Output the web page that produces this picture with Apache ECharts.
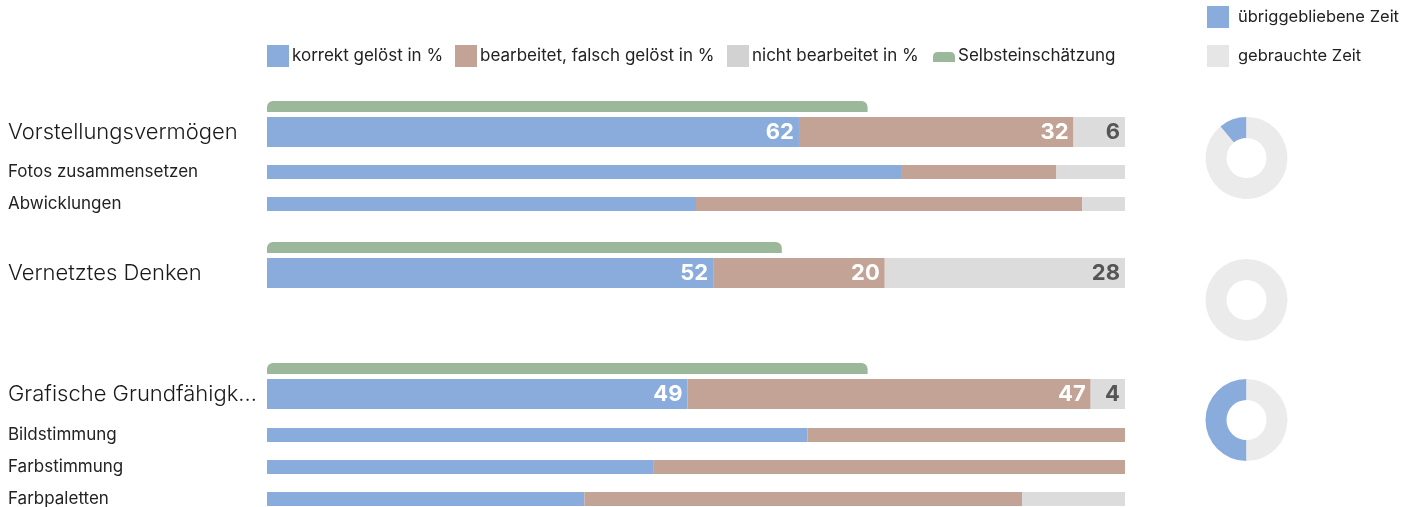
<!DOCTYPE html>
<html>
<head>
<meta charset="utf-8">
<script src="https://cdn.jsdelivr.net/npm/echarts@6/dist/echarts.min.js"></script>
<style>
html,body{margin:0;padding:0;background:#fff;}
#chart{width:1424px;height:507px;}
</style>
</head>
<body>
<div id="chart"></div>
<script>
// ---- data ----
const groups = ['Vorstellungsvermögen', 'Vernetztes Denken', 'Grafische Grundfähigkeiten'];
const correct = [62, 52, 49];
const wrong = [32, 20, 47];
const notDone = [6, 28, 4];
const selfEstimate = [70, 60, 70];

const subGroup = [0, 0, 2, 2, 2];
const subNames = ['Fotos zusammensetzen', 'Abwicklungen', 'Bildstimmung', 'Farbstimmung', 'Farbpaletten'];
const subCorrect = [74, 50, 63, 45, 37];
const subWrong = [18, 45, 37, 55, 51];
const subNotDone = [8, 5, 0, 0, 12];

const timeLeft = [11, 0, 50];
const timeUsed = [89, 100, 50];

const seriesNames = ['korrekt gelöst in %', 'bearbeitet, falsch gelöst in %', 'nicht bearbeitet in %', 'Selbsteinschätzung'];
const timeNames = ['übriggebliebene Zeit', 'gebrauchte Zeit'];

// ---- layout / style ----
const C_BLUE = '#89acdc', C_BROWN = '#c2a395', C_GRAY = '#dcdcdc', C_GREEN = '#9bb89b', C_RING = '#ebebeb';
const FONT = 'Inter';
const LEFT = 267, RIGHT = 299;
const mainTop = [117, 258, 379];
const subTop = [165, 197, 428, 460, 492];
const pieCenterY = [158, 300, 420];
const legendLeft = [267, 455, 727, 933];
const legendIcons = ['rect', 'rect', 'rect',
  'path://M0,17 L0,12 Q0,7 5,7 L17,7 Q22,7 22,12 L22,17 Z M0,0 L0,0 M22,22 L22,22'];
const legendColors = [C_BLUE, C_BROWN, '#d2d2d2', C_GREEN];

const grids = [], xAxes = [], yAxes = [], series = [];

function addGrid(top, height, label, labelStyle) {
  const idx = grids.length;
  grids.push({left: LEFT, right: RIGHT, top: top, height: height, containLabel: false, outerBoundsMode: 'none'});
  xAxes.push({type: 'value', gridIndex: idx, min: 0, max: 100, show: false});
  yAxes.push({
    type: 'category', gridIndex: idx, data: [label],
    axisLine: {show: false}, axisTick: {show: false}, splitLine: {show: false},
    axisLabel: Object.assign({show: !!label, align: 'left', margin: LEFT - 8, fontFamily: FONT,
      width: 252, overflow: 'truncate', ellipsis: '...'}, labelStyle || {})
  });
  return idx;
}

function stackSeries(idx, vals, withLabels) {
  const colors = [C_BLUE, C_BROWN, C_GRAY];
  const labelColors = ['#fff', '#fff', '#555'];
  vals.forEach((v, k) => {
    series.push({
      type: 'bar', name: seriesNames[k], xAxisIndex: idx, yAxisIndex: idx,
      stack: 's' + idx, barWidth: '100%', data: [v], silent: true,
      itemStyle: {color: colors[k]},
      label: withLabels ? {show: true, position: 'insideRight', distance: 5, color: labelColors[k],
        fontFamily: FONT, fontWeight: 'bold', fontSize: 22} : {show: false}
    });
  });
}

groups.forEach((g, i) => {
  const gi = addGrid(mainTop[i] - 16, 11, '', {show: false});
  series.push({
    type: 'bar', name: seriesNames[3], xAxisIndex: gi, yAxisIndex: gi, barWidth: '100%',
    data: [selfEstimate[i]], silent: true,
    itemStyle: {color: C_GREEN, borderRadius: [6, 6, 0, 0]}
  });
  const mi = addGrid(mainTop[i], 30, g, {fontSize: 22, fontWeight: 300, color: '#1a1a1a',
    verticalAlign: 'middle', lineHeight: 30, padding: [5, 0, 0, 0]});
  stackSeries(mi, [correct[i], wrong[i], notDone[i]], true);
});

subNames.forEach((s, j) => {
  const si = addGrid(subTop[j], 14, s, {fontSize: 17, fontWeight: 400, color: '#222'});
  stackSeries(si, [subCorrect[j], subWrong[j], subNotDone[j]], false);
});

groups.forEach((g, i) => {
  series.push({
    type: 'pie', name: g, center: [1246.5, pieCenterY[i]], radius: [20, 41],
    startAngle: 90, clockwise: false, silent: true, label: {show: false}, labelLine: {show: false},
    data: [
      {name: timeNames[0], value: timeLeft[i], itemStyle: {color: C_BLUE}},
      {name: timeNames[1], value: timeUsed[i], itemStyle: {color: C_RING}}
    ]
  });
});

const legends = seriesNames.map((n, k) => ({
  left: legendLeft[k], top: 45, padding: 0, itemWidth: 22, itemHeight: 22,
  selectedMode: false,
  textStyle: {fontFamily: FONT, fontSize: 17, color: '#222', padding: [0, 0, 0, -2]},
  data: [{name: n, icon: legendIcons[k], itemStyle: {color: legendColors[k], borderWidth: 0}}]
}));
legends.push({
  left: 1207, top: 6, padding: 0, orient: 'vertical', itemWidth: 22, itemHeight: 22, itemGap: 17,
  selectedMode: false,
  textStyle: {fontFamily: FONT, fontSize: 16.5, color: '#222', padding: [0, 0, 0, 4]},
  data: [
    {name: timeNames[0], icon: 'rect', itemStyle: {color: C_BLUE}},
    {name: timeNames[1], icon: 'rect', itemStyle: {color: '#e6e6e6'}}
  ]
});

const chart = echarts.init(document.getElementById('chart'), null, {renderer: 'canvas'});
chart.setOption({
  animation: false,
  backgroundColor: '#fff',
  grid: grids, xAxis: xAxes, yAxis: yAxes,
  legend: legends,
  series: series
});
</script>
</body>
</html>
